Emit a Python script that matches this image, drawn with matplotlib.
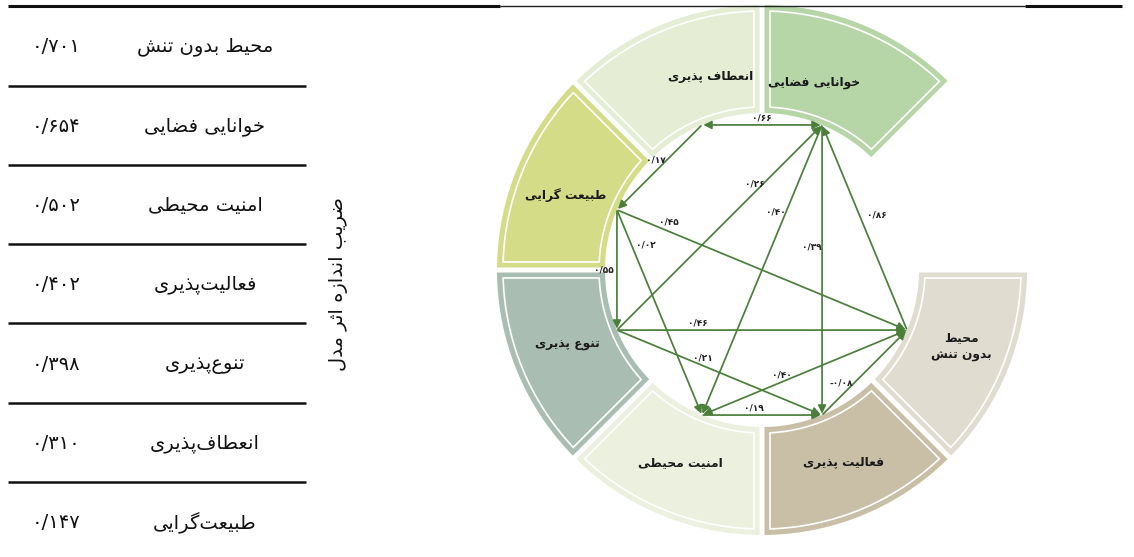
import numpy as np
import matplotlib.pyplot as plt
from matplotlib.patches import Polygon

# DejaVu Sans is the only installed family with Arabic-script glyphs
plt.rcParams['font.family'] = ['DejaVu Sans']

# ---- data ----
factors = ['محیط بدون تنش', 'خوانایی فضایی', 'امنیت محیطی', 'فعالیت\u200cپذیری',
           'تنوع\u200cپذیری', 'انعطاف\u200cپذیری', 'طبیعت\u200cگرایی']
effect_size = [0.701, 0.654, 0.502, 0.402, 0.398, 0.310, 0.147]
axis_title = 'ضریب اندازه اثر مدل'

node_names = ['خوانایی فضایی', 'انعطاف پذیری', 'طبیعت گرایی', 'تنوع پذیری',
              'امنیت محیطی', 'فعالیت پذیری', 'محیط\nبدون تنش']
node_colors = ['#B7D6A8', '#E5EED5', '#D5DC88', '#A9BDB3', '#ECF0DE', '#C8BFA6', '#E1DCD0']

# path coefficients: source node -> target node
edge_src = [0, 1, 2, 2, 2, 3, 0, 0, 6, 3, 3, 6, 4, 5]
edge_dst = [1, 2, 3, 6, 4, 0, 4, 5, 0, 6, 5, 4, 5, 6]
edge_coef = [0.66, 0.17, 0.55, 0.45, 0.02, 0.26, 0.40, 0.39, 0.86, 0.46, 0.21, 0.40, 0.19, -0.08]
edge_both = [True] + [False] * 13

# ---- layout (pixels) ----
cx, cy = 762, 270
r_in, r_out = 157, 265
# where the coefficient sits on each edge: fraction along, x/y nudge
lab_t = [0.5, 0.5, 0.5, 0.18, 0.18, 0.68, 0.30, 0.42, 0.56, 0.28, 0.42, 0.61, 0.43, 0.27]
lab_dx = [0, -4, -13, 0, 14, -2, -10, -10, 17, 0, 0, 0, 0, -4]
lab_dy = [-7, -7, 0, -10, -2, -7, 0, 0, 0, -7, -8, -7, -7, -9]
# segment titles in polar (deg, radius)
title_ang = [74.5, 104.8, 159, 201, 247, 293, 339]
title_rad = [195, 200, 210, 209, 209, 209, 214]

# ---- minimal Persian shaping (isolated, final, initial, medial) ----
FORMS = {
    'ا': '\uFE8D\uFE8E', 'ب': '\uFE8F\uFE90\uFE91\uFE92', 'پ': '\uFB56\uFB57\uFB58\uFB59',
    'ت': '\uFE95\uFE96\uFE97\uFE98', 'ث': '\uFE99\uFE9A\uFE9B\uFE9C',
    'ح': '\uFEA1\uFEA2\uFEA3\uFEA4', 'خ': '\uFEA5\uFEA6\uFEA7\uFEA8',
    'د': '\uFEA9\uFEAA', 'ذ': '\uFEAB\uFEAC', 'ر': '\uFEAD\uFEAE', 'ز': '\uFEAF\uFEB0',
    'ش': '\uFEB5\uFEB6\uFEB7\uFEB8', 'ض': '\uFEBD\uFEBE\uFEBF\uFEC0',
    'ط': '\uFEC1\uFEC2\uFEC3\uFEC4', 'ع': '\uFEC9\uFECA\uFECB\uFECC',
    'ف': '\uFED1\uFED2\uFED3\uFED4', 'ل': '\uFEDD\uFEDE\uFEDF\uFEE0',
    'م': '\uFEE1\uFEE2\uFEE3\uFEE4', 'ن': '\uFEE5\uFEE6\uFEE7\uFEE8',
    'ه': '\uFEE9\uFEEA\uFEEB\uFEEC', 'و': '\uFEED\uFEEE',
    'ی': '\uFBFC\uFBFD\uFBFE\uFBFF', 'گ': '\uFB92\uFB93\uFB94\uFB95',
}


def shape_line(text):
    out = []
    for i, ch in enumerate(text):
        if ch not in FORMS:
            out.append(ch)
            continue
        prev = text[i - 1] if i > 0 else None
        nxt = text[i + 1] if i + 1 < len(text) else None
        f = FORMS[ch]
        jp = prev in FORMS and len(FORMS[prev]) == 4
        jn = len(f) == 4 and nxt in FORMS
        if jp and jn:
            out.append(f[3])
        elif jp:
            out.append(f[1])
        elif jn:
            out.append(f[2])
        else:
            out.append(f[0])
    out = [c for c in out if c != '\u200c']
    return ''.join(reversed(out))


def fa(text):
    return '\n'.join(shape_line(s) for s in text.split('\n'))


def fa_num(v, nd):
    s = f'{abs(v):.{nd}f}'.replace('0.', '0/')
    s = ''.join('۰۱۲۳۴۵۶۷۸۹'[int(c)] if c.isdigit() else c for c in s)
    return ('-' if v < 0 else '') + s


def pt(ang, r):
    a = np.radians(ang)
    return cx + r * np.cos(a), cy - r * np.sin(a)


def ring_piece(a0, a1, r0, r1, pad):
    to = np.linspace(a0 + np.degrees(pad / r1), a1 - np.degrees(pad / r1), 80)
    ti = np.linspace(a1 - np.degrees(pad / r0), a0 + np.degrees(pad / r0), 80)
    return [pt(t, r1) for t in to] + [pt(t, r0) for t in ti]


fig = plt.figure(figsize=(11.34, 5.57), dpi=100)
ax = fig.add_axes([0, 0, 1, 1])
ax.set_xlim(0, 1134)
ax.set_ylim(557, 0)
ax.axis('off')

# ---- table on the left ----
ax.plot([8, 500], [6, 6], color='#111111', lw=2.2, solid_capstyle='butt')
ax.plot([500, 1025], [6, 6], color='#222222', lw=1.0, solid_capstyle='butt')
ax.plot([1025, 1122], [6, 6], color='#111111', lw=2.2, solid_capstyle='butt')
row_h = 79.3
for i, (name, val) in enumerate(zip(factors, effect_size)):
    y = 47 + i * row_h
    ax.text(205, y, fa(name), ha='center', va='center', fontsize=14, color='#111111')
    ax.text(56, y, fa_num(val, 3), ha='center', va='center', fontsize=14, color='#111111')
    if i < len(factors) - 1:
        ax.plot([8, 306], [y + 38.5, y + 38.5], color='#111111', lw=1.8, solid_capstyle='butt')
ax.text(338, 284, fa(axis_title), rotation=90, ha='center', va='center',
        fontsize=14, color='#111111')

# ---- ring of factors ----
mids = [67.5 + 45 * k for k in range(len(node_names))]
for k, m in enumerate(mids):
    ax.add_patch(Polygon(ring_piece(m - 22.5, m + 22.5, r_in, r_out, 2.5),
                         closed=True, facecolor=node_colors[k], edgecolor='none', zorder=1))
    ax.add_patch(Polygon(ring_piece(m - 22.5, m + 22.5, r_in + 6, r_out - 6, 8),
                         closed=True, facecolor='none', edgecolor='white', lw=1.2, zorder=2))
    tx, ty = pt(title_ang[k], title_rad[k])
    ax.text(tx, ty, fa(node_names[k]), ha='center', va='center', fontsize=8.8,
            fontweight='bold', color='#1a1a1a', linespacing=1.5, zorder=5)

# ---- path arrows ----
nodes = [pt(m, r_in) for m in mids]
for j in range(len(edge_src)):
    p0, p1 = nodes[edge_src[j]], nodes[edge_dst[j]]
    style = '<|-|>' if edge_both[j] else '-|>'
    ax.annotate('', xy=p1, xytext=p0,
                arrowprops=dict(arrowstyle=style, color='#4A7F3A', lw=1.25,
                                mutation_scale=12, shrinkA=1, shrinkB=1), zorder=3)
    t = lab_t[j]
    lx = p0[0] + t * (p1[0] - p0[0]) + lab_dx[j]
    ly = p0[1] + t * (p1[1] - p0[1]) + lab_dy[j]
    ax.text(lx, ly, fa_num(edge_coef[j], 2), ha='center', va='center', fontsize=6.5,
            fontweight='bold', color='#222222', zorder=4)

fig.savefig('out.png', dpi=100)
